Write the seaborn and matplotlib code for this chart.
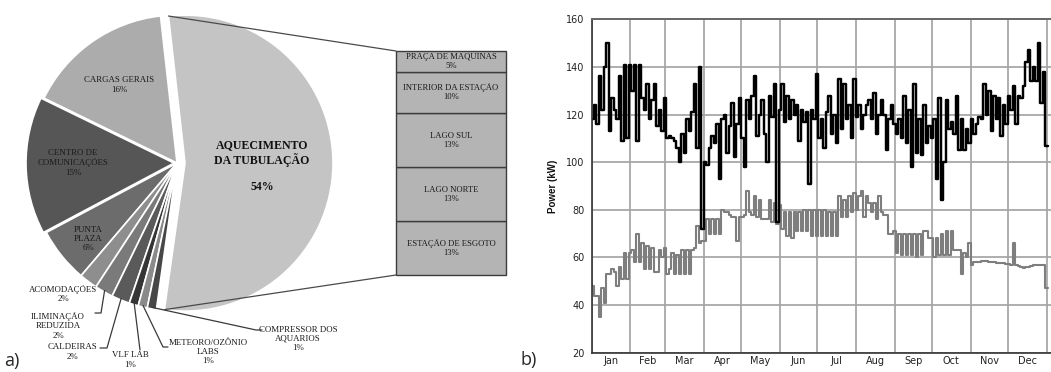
import numpy as np
import pandas as pd
import matplotlib
matplotlib.use("Agg")
import matplotlib.pyplot as plt
import seaborn as sns
from matplotlib.ticker import MultipleLocator, FixedLocator, NullFormatter, FixedFormatter

# ---------------- data ----------------
pie_labels = ["AQUECIMENTO\nDA TUBULAÇÃO", "CARGAS GERAIS", "CENTRO DE\nCOMUNICAÇÕES",
              "PUNTA\nPLAZA", "ACOMODAÇÕES", "ILIMINAÇÃO\nREDUZIDA", "CALDEIRAS",
              "VLF LAB", "METEORO/OZÔNIO\nLABS", "COMPRESSOR DOS\nAQUARIOS"]
pie_values = [54, 16, 15, 6, 2, 2, 2, 1, 1, 1]
pie_colors = ["#c4c4c4", "#acacac", "#565656", "#6c6c6c", "#8e8e8e",
              "#7a7a7a", "#5a5a5a", "#353535", "#8a8a8a", "#474747"]

sub_labels = ["ESTAÇÃO DE ESGOTO", "LAGO NORTE", "LAGO SUL",
              "INTERIOR DA ESTAÇÃO", "PRAÇA DE MAQUINAS"]
sub_values = [13, 13, 13, 10, 5]

months = ["Jan", "Feb", "Mar", "Apr", "May", "Jun",
          "Jul", "Aug", "Sep", "Oct", "Nov", "Dec"]
month_days = [31, 28, 31, 30, 31, 30, 31, 31, 30, 31, 30, 31]

# total power, one value every 2 days (kW)
total_kw = [118, 124, 116, 136, 122, 140, 150, 113, 127, 122, 118, 136, 109, 141, 110, 141,
            130, 141, 109, 141, 127, 122, 133, 118, 126, 133, 115, 122, 113, 127, 110,
            111, 110, 109, 106, 100, 112, 104, 118, 113, 121, 133, 106, 140, 72,
            100, 99, 106, 111, 108, 116, 93, 118, 120, 104, 115, 125, 102, 116, 127,
            110, 98, 126, 118, 128, 136, 111, 120, 126, 112, 100, 128, 119, 133, 75,
            122, 133, 117, 128, 118, 126, 120, 124, 109, 122, 117, 121, 91, 122, 118,
            137, 110, 118, 106, 121, 128, 112, 120, 108, 135, 114, 133, 118, 124, 110,
            135, 119, 124, 114, 120, 124, 126, 118, 129, 112, 120, 126, 120, 105, 118,
            124, 116, 112, 118, 110, 128, 108, 122, 98, 133, 104, 118, 103, 124, 108,
            115, 110, 118, 93, 127, 84, 100, 126, 114, 117, 112, 128, 105, 118, 105,
            114, 108, 118, 112, 116, 119, 118, 133, 120, 130, 113, 128, 118, 127, 111,
            124, 116, 128, 122, 132, 116, 128, 127, 132, 142, 147, 134, 140, 134, 150,
            125, 138, 107]

# base load, one value every 2 days (kW)
base_kw = [48, 44, 44, 35, 47, 41, 53, 53, 55, 54, 48, 56, 51, 62, 51, 62,
           63, 58, 70, 58, 66, 55, 65, 55, 64, 54, 54, 63, 60, 64, 53,
           55, 62, 53, 61, 53, 63, 53, 63, 53, 63, 64, 73, 66, 67,
           67, 76, 70, 76, 70, 76, 70, 80, 79, 79, 78, 77, 77, 67, 77,
           77, 78, 88, 79, 78, 86, 77, 84, 76, 76, 76, 84, 75, 83, 74,
           82, 72, 79, 69, 79, 68, 79, 71, 79, 71, 80, 71, 80, 69, 80,
           69, 80, 69, 80, 69, 79, 69, 79, 69, 86, 77, 84, 77, 86, 79,
           87, 80, 86, 88, 77, 86, 83, 79, 83, 76, 86, 79, 78, 78, 70,
           70, 71, 62, 70, 61, 70, 61, 70, 61, 70, 60, 70, 61, 71, 71,
           68, 68, 60, 68, 61, 70, 61, 71, 61, 71, 63, 63, 63, 53, 62,
           60, 66, 57, 58, 58, 58, 58.5, 58.5, 58.3, 58, 58, 58, 57.5, 57.8, 57.6,
           57.6, 57.4, 57.2, 57, 66, 57, 56.5, 55.8, 55.5, 56, 56, 56.5, 57, 57, 57,
           57, 57, 47]

# ---------------- figure ----------------
sns.set_style("white")
plt.rcParams["font.family"] = ["DejaVu Sans"]
W, H = 1051, 372
fig = plt.figure(figsize=(W / 100, H / 100), dpi=100)

serif = ["Liberation Serif", "DejaVu Serif"]

# ---- (a) pie of pie ----
axp = fig.add_axes([0, 0, 520 / W, 1])
def P(px, py):
    return (px, H - py)

explode = [8, 0, 3, 0, 0, 0, 0, 0, 0, 0]
wedges, _ = axp.pie(pie_values, colors=pie_colors, startangle=-98, counterclock=True,
                    center=P(177, 163), radius=148, explode=explode,
                    wedgeprops=dict(edgecolor="white", linewidth=1.2))
axp.set_aspect("auto")
axp.set_xlim(0, 520)
axp.set_ylim(0, H)
axp.axis("off")

def wedge_point(w, frac=1.0, ang=None):
    if ang is None:
        ang = 0.5 * (w.theta1 + w.theta2)
    a = np.deg2rad(ang)
    return (w.center[0] + frac * w.r * np.cos(a), w.center[1] + frac * w.r * np.sin(a))

# label layout (pixel positions)
label_pos = [(262, 153), (119, 85), (73, 163), (88, 239), (63, 294),
             (58, 326), (72, 352), (130, 360), (208, 352), (298, 339)]
leaders = [None, None, None, None, None,
           [(95, 313), (101, 313)], [(100, 348), (107, 348)], [(140, 350)],
           [(168, 347), (163, 347)], [(262, 330), (256, 330)]]

for i, (lab, val) in enumerate(zip(pie_labels, pie_values)):
    x, y = P(*label_pos[i])
    if i == 0:
        axp.text(x, y, lab, ha="center", va="center", fontsize=8.6, fontweight="bold",
                 family=serif, color="#111111", linespacing=1.25)
        axp.text(*P(262, 187), f"{val}%", ha="center", va="center", fontsize=8.6,
                 fontweight="bold", family=serif, color="#111111")
    else:
        axp.text(x, y, f"{lab}\n{val}%", ha="center", va="center", fontsize=6.4,
                 family=serif, color="#1a1a1a", linespacing=1.2)
    if leaders[i] is not None:
        pts = [P(*p) for p in leaders[i]] + [wedge_point(wedges[i], 0.99)]
        xs, ys = zip(*pts)
        axp.plot(xs, ys, color="#3a3a3a", lw=0.9)

# stacked bar of the exploded slice
bar_left, bar_right = 396, 506
bar_bottom, bar_top = H - 275, H - 51
scale = (bar_top - bar_bottom) / sum(sub_values)
bottoms = bar_bottom + np.concatenate([[0], np.cumsum(sub_values)[:-1]]) * scale
heights = np.array(sub_values) * scale
axp.bar([(bar_left + bar_right) / 2] * len(sub_values), heights, bottom=bottoms,
        width=bar_right - bar_left, color="#b4b4b4", edgecolor="#3c3c3c", linewidth=1.0)
for lab, val, b, h in zip(sub_labels, sub_values, bottoms, heights):
    axp.text((bar_left + bar_right) / 2, b + h / 2, f"{lab}\n{val}%", ha="center",
             va="center", fontsize=6.2, family=serif, color="#1a1a1a", linespacing=1.15)

# connector lines
w0 = wedges[0]
top_pt = wedge_point(w0, 1.0, w0.theta2)
bot_pt = wedge_point(w0, 1.0, w0.theta1)
axp.plot([top_pt[0], bar_left], [top_pt[1], bar_top], color="#4a4a4a", lw=0.9)
axp.plot([bot_pt[0], bar_left], [bot_pt[1], bar_bottom], color="#4a4a4a", lw=0.9)

fig.text(4 / W, 1 - 361 / H, "a)", fontsize=13, family=["Open Sans", "DejaVu Sans"],
         va="center", ha="left")
fig.text(520 / W, 1 - 360 / H, "b)", fontsize=13, family=["Open Sans", "DejaVu Sans"],
         va="center", ha="left")

# ---- (b) time series ----
ax = fig.add_axes([591.5 / W, (H - 352.7) / H, (W - 591.5) / W, 333.4 / H])
days = np.arange(len(total_kw)) * 2
end_day = 366
df = pd.DataFrame({"day": np.append(days, end_day),
                   "total": np.append(total_kw, total_kw[-1]),
                   "base": np.append(base_kw, base_kw[-1])})
sns.lineplot(data=df, x="day", y="base", ax=ax, drawstyle="steps-post",
             color="#7e7e7e", linewidth=1.5)
sns.lineplot(data=df, x="day", y="total", ax=ax, drawstyle="steps-post",
             color="black", linewidth=1.75)

bounds = np.concatenate([[0], np.cumsum(month_days)])
centers = (bounds[:-1] + bounds[1:]) / 2
ax.set_xlim(0, 368.5)
ax.set_ylim(20, 160)
ax.xaxis.set_major_locator(FixedLocator(bounds))
ax.xaxis.set_major_formatter(NullFormatter())
ax.xaxis.set_minor_locator(FixedLocator(centers))
ax.xaxis.set_minor_formatter(FixedFormatter(months))
ax.yaxis.set_major_locator(MultipleLocator(20))
ax.yaxis.set_minor_locator(MultipleLocator(10))
ax.tick_params(axis="x", which="major", direction="out", length=3.5, width=1,
               color="#333333")
ax.tick_params(axis="x", which="minor", length=0, labelsize=7, pad=2.5,
               labelcolor="#222222")
ax.tick_params(axis="y", which="major", direction="out", length=3.5, width=1,
               labelsize=7, pad=1.5, color="#333333", labelcolor="#222222")
ax.tick_params(axis="y", which="minor", direction="out", length=2, width=0.8,
               color="#333333")
ax.grid(True, which="major", color="#a4a4a4", linewidth=1.25)
ax.set_axisbelow(True)
ax.set_xlabel("")
ax.set_ylabel("Power (kW)", fontsize=7, fontweight="bold",
              family=["Liberation Sans", "DejaVu Sans"], labelpad=6, color="#111111")
for s in ["left", "bottom"]:
    ax.spines[s].set_color("#333333")
    ax.spines[s].set_linewidth(1.2)
ax.spines["top"].set_color("#666666")
ax.spines["top"].set_linewidth(1.4)
ax.spines["right"].set_visible(False)

fig.savefig("out.png", dpi=100)
